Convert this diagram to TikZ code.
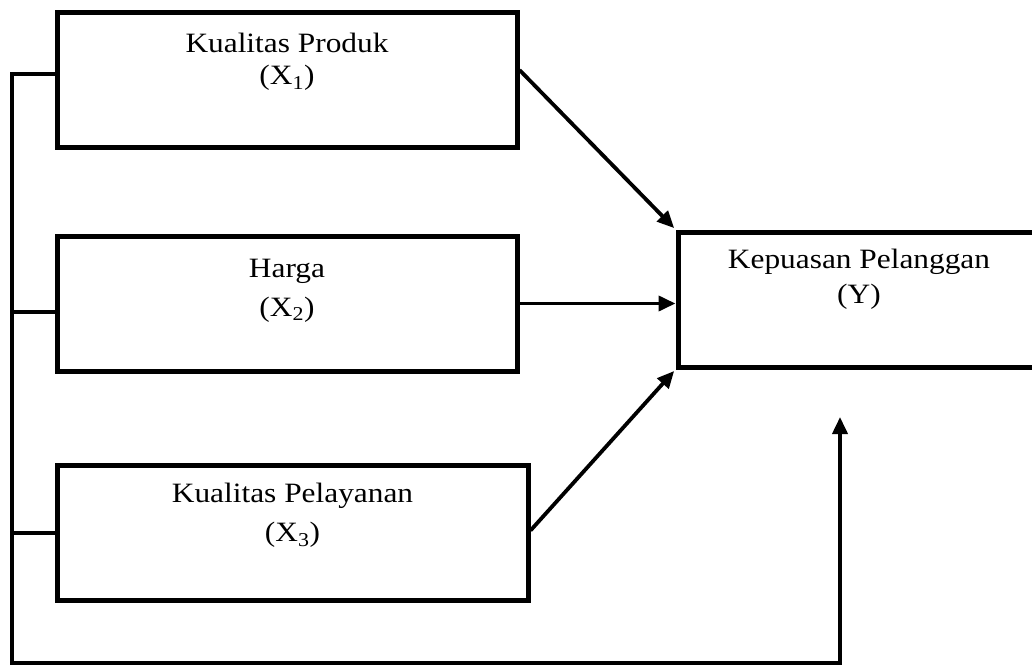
\documentclass[tikz,border=0pt]{standalone}
\usepackage{fontspec}
\setmainfont{Liberation Serif}[FakeStretch=1.12]
\usetikzlibrary{positioning, arrows.meta, calc}
\tikzset{
  varbox/.style={draw, line width=5, minimum width=460, minimum height=135,
    inner sep=0},
  txt/.style={align=center, inner sep=0, font=\fontsize{28}{#1}\selectfont},
  txt/.default=35,
  wire/.style={line width=3.8}
}

\begin{document}
\begin{tikzpicture}[x=1pt, y=-1pt, >={Triangle[length=17,width=15]}]
\useasboundingbox (0,0) rectangle (1032,664);
%X1, X2, X3
\node [varbox] (x1) at (287,80) {};
\node [txt=32] (x1t) at ([yshift=-52]x1.north) {Kualitas Produk\\(X\textsubscript{1})};

\node [varbox] (x2) at (287,303.5) {};
\node [txt=39] (x2t) at ([yshift=-57]x2.north) {Harga\\(X\textsubscript{2})};

\node [varbox, minimum width=471] (x3) at (292.5,532.5) {};
\node [txt=39] (x3t) at ([yshift=-53]x3.north) {Kualitas Pelayanan\\(X\textsubscript{3})};

%Y
\node [varbox, minimum width=362] (y) at (859,299.5) {};
\node [txt=35] (yt) at ([yshift=-50]y.north) {Kepuasan Pelanggan\\(Y)};

\coordinate (b1) at (12,74);
\coordinate (b2) at (12,312);
\coordinate (b3) at (12,533);
\coordinate (b4) at (12,663);
\coordinate (tip) at (840,417);

\draw [wire, ->] (x1.west |- b1) -- (b1) -- (b4) -| (tip);
\draw [wire] (b2) -- (x2.west |- b2);
\draw [wire] (b3) -- (x3.west |- b3);

\draw [wire, ->, shorten >=2] ([yshift=10]x1.east) -- (y.north west);
\draw [wire, ->] (x2.east) -- (x2.east -| y.west);
\draw [wire, ->, shorten >=2] ([yshift=2]x3.east) -- (y.south west);

\end{tikzpicture}
\end{document}
